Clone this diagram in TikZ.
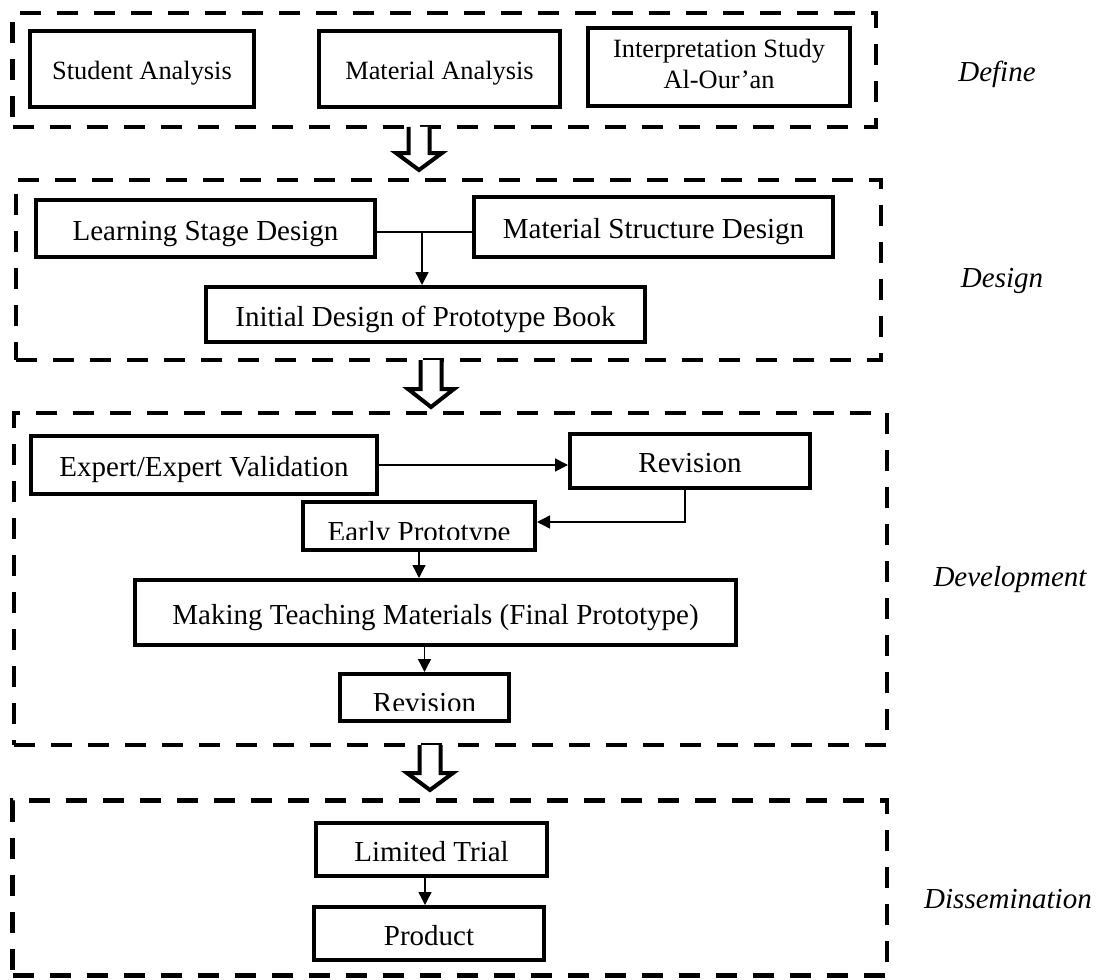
\documentclass[tikz,border=0pt]{standalone}
\usepackage{fontspec}
\setmainfont{Liberation Serif}
\usetikzlibrary{arrows.meta}
\begin{document}
\begin{tikzpicture}[x=1pt,y=-1pt,
  box/.style={draw, line width=4pt, inner sep=0pt, font=\fontsize{29}{34}\selectfont, text height=23pt, text depth=0pt},
  sbox/.style={box, font=\fontsize{26.4}{32}\selectfont, text height=21.5pt},
  frm/.style={draw, dash pattern=on 21pt off 16pt, line width=4.5pt, inner sep=0pt},
  conn/.style={line width=1.4pt, -{Triangle[length=13pt,width=13pt]}},
  plainline/.style={line width=1.4pt},
  hollow/.style={draw, fill=white, line width=4pt, line join=miter},
  cliptext/.style={inner sep=0pt, font=\fontsize{29}{34}\selectfont, text height=19.2pt, text depth=0pt},
  lbl/.style={font=\fontsize{29}{34}\selectfont\itshape, inner sep=0pt, text height=19.2pt, text depth=0pt}]
\useasboundingbox (0,0) rectangle (1102,979);

% dashed frames
\node[frm, minimum width=863.5pt, minimum height=114pt] (fdef) at (444.25,70) {};
\node[frm, minimum width=865pt, minimum height=180pt] (fdes) at (448.5,270) {};
\node[frm, minimum width=873pt, minimum height=332pt] (fdev) at (450.5,579) {};
\node[frm, minimum width=874.5pt, minimum height=175pt] (fdis) at (449.75,888) {};

% Define
\node[sbox, minimum width=224pt, minimum height=76pt] (sa) at (142,69) {Student Analysis};
\node[sbox, minimum width=241pt, minimum height=76pt] (ma) at (439.5,69) {Material Analysis};
\node[sbox, minimum width=262pt, minimum height=78pt, align=center, text height=44pt, text depth=0pt] (is) at (719,67) {Interpretation Study\\Al-Our’an};
\node[lbl] (ldef) at (997,71.5) {Define};

% Design
\node[box, minimum width=339pt, minimum height=57pt] (lsd) at (205.5,228.5) {Learning Stage Design};
\node[box, minimum width=359pt, minimum height=60pt] (msd) at (653.5,227) {Material Structure Design};
\node[box, minimum width=439pt, minimum height=55pt] (idb) at (425.5,314.5) {Initial Design of Prototype Book};
\coordinate (j) at (422,232);
\draw[plainline] (lsd.east |- j) -- (msd.west |- j);
\draw[conn] (j) -- (j |- idb.north);
\node[lbl] (ldes) at (1002,278) {Design};

% Development
\node[box, minimum width=346pt, minimum height=58pt] (ev) at (204,465) {Expert/Expert Validation};
\node[box, minimum width=240pt, minimum height=54pt] (rv1) at (690,461) {Revision};
\node[box, minimum width=232pt, minimum height=48pt] (ep) at (419,526) {};
\begin{scope}
  \clip (301,500) rectangle (537,539);
  \node[cliptext, yshift=-5.5pt] (eptext) at (ep.center) {Early Prototype};
\end{scope}
\node[box, minimum width=601pt, minimum height=65pt] (mk) at (435.5,612.5) {Making Teaching Materials (Final Prototype)};
\node[box, minimum width=169pt, minimum height=47pt] (rv2) at (424.5,697.5) {};
\begin{scope}
  \clip (338,672) rectangle (511,710);
  \node[cliptext, yshift=-5pt] (rv2text) at (rv2.center) {Revision};
\end{scope}
\draw[conn] (ev.east) -- (ev.east -| rv1.west);
\coordinate (rvb) at (685,522);
\draw[conn] (rv1.south -| rvb) -- (rvb) -- (rvb -| ep.east);
\draw[conn] (ep.south) -- (ep.south |- mk.north);
\draw[conn] (mk.south -| rv2.north) -- (rv2.north);
\node[lbl] (ldev) at (1010,576.5) {Development};

% Dissemination
\node[box, minimum width=231pt, minimum height=53pt] (lt) at (431.5,849.5) {Limited Trial};
\node[box, minimum width=230pt, minimum height=53pt] (pr) at (429,933.5) {Product};
\coordinate (ltp) at (425,878);
\draw[conn] (lt.south -| ltp) -- (pr.north -| ltp);
\node[lbl] (ldis) at (1008,898.5) {Dissemination};

% hollow block arrows between phases
\draw[hollow] (408.5,127) -- (408.5,153) -- (396,153) -- (419,170) -- (442,153) -- (429.5,153) -- (429.5,127);
\draw[hollow] (420.5,360) -- (420.5,389) -- (408,389) -- (431,407) -- (454,389) -- (441.5,389) -- (441.5,360);
\draw[hollow] (419.5,745) -- (419.5,773) -- (407,773) -- (430,790) -- (453,773) -- (440.5,773) -- (440.5,745);
\end{tikzpicture}
\end{document}
